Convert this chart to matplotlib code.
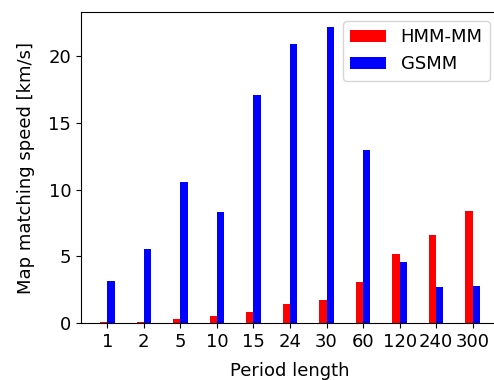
import matplotlib
matplotlib.use("Agg")
import matplotlib.pyplot as plt
import numpy as np

periods = ["1", "2", "5", "10", "15", "24", "30", "60", "120", "240", "300"]
hmm_mm = [0.1, 0.1, 0.3, 0.5, 0.82, 1.42, 1.72, 3.07, 5.17, 6.6, 8.4]
gsmm = [3.15, 5.54, 10.6, 8.3, 17.1, 20.9, 22.2, 12.96, 4.57, 2.7, 2.77]

fs = 13
fig = plt.figure(figsize=(4.94, 3.80), dpi=100)
ax = fig.add_axes([81/494, 1 - 323/380, (499 - 81)/494, (323 - 12)/380])
x = np.arange(len(periods))
w = 0.2
ax.bar(x - w, hmm_mm, width=w, align="edge", color="red", label="HMM-MM")
ax.bar(x, gsmm, width=w, align="edge", color="blue", label="GSMM")
ax.set_xticks(x)
ax.set_xticklabels(periods, fontsize=fs)
ax.tick_params(axis="y", labelsize=fs)
ax.set_xlabel("Period length", fontsize=fs, labelpad=8)
ax.set_ylabel("Map matching speed [km/s]", fontsize=fs, labelpad=10)
ax.set_yticks([0, 5, 10, 15, 20])
ax.spines["right"].set_visible(False)
ax.legend(loc="upper right", fontsize=fs)
fig.savefig("out.png", dpi=100)
